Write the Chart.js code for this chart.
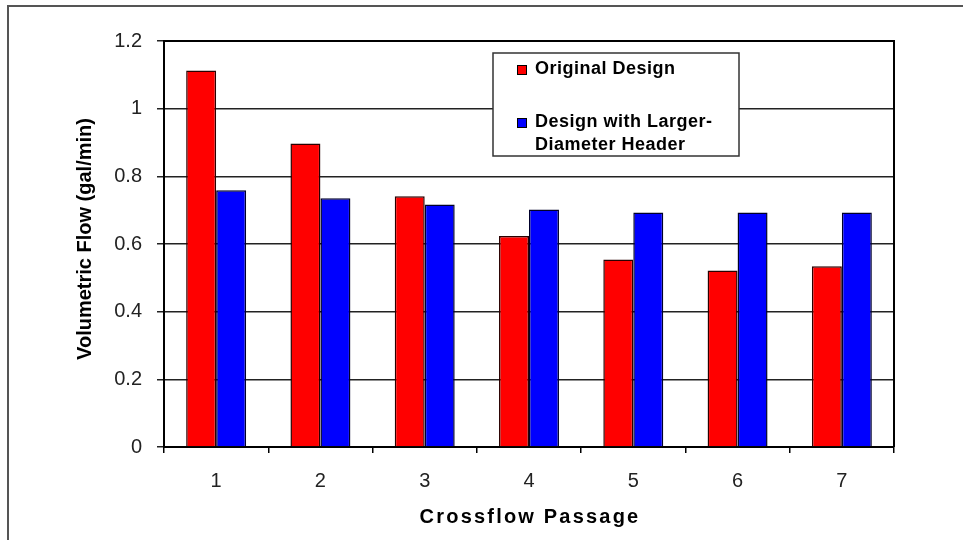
<!DOCTYPE html>
<html>
<head>
<meta charset="utf-8">
<script src="https://cdn.jsdelivr.net/npm/chart.js@4.4.1/dist/chart.umd.min.js"></script>
<style>
  html, body { margin: 0; padding: 0; background: #fff; }
  #wrap { width: 963px; height: 540px; }
</style>
</head>
<body>
<div id="wrap"><canvas id="flowChart" width="963" height="540"></canvas></div>
<script>
// crossflow passages and measured flow per passage (gal/min)
var passages = ['1', '2', '3', '4', '5', '6', '7'];
var originalFlow = [1.113, 0.897, 0.741, 0.624, 0.554, 0.522, 0.534];
var largerHeaderFlow = [0.759, 0.735, 0.717, 0.702, 0.693, 0.693, 0.693];
var seriesNames = [['Original Design'], ['Design with Larger-', 'Diameter Header']];
var yTicks = [0, 0.2, 0.4, 0.6, 0.8, 1, 1.2];
var xTitle = 'Crossflow Passage';
var yTitle = 'Volumetric Flow (gal/min)';

var FONT = '"Liberation Sans", Arial, sans-serif';

// white page with the outer frame
var framePlugin = {
  id: 'frame',
  beforeDraw: function(chart) {
    var ctx = chart.ctx;
    ctx.save();
    ctx.fillStyle = '#fff';
    ctx.fillRect(0, 0, chart.width, chart.height);
    ctx.strokeStyle = '#555';
    ctx.lineWidth = 2;
    ctx.beginPath();
    ctx.moveTo(963, 6);
    ctx.lineTo(8, 6);
    ctx.lineTo(8, 540);
    ctx.stroke();
    ctx.restore();
  },
  // closing lines on the top and right of the plot area
  afterDatasetsDraw: function(chart) {
    var ctx = chart.ctx, a = chart.chartArea;
    ctx.save();
    ctx.strokeStyle = '#000';
    ctx.lineWidth = 2;
    ctx.beginPath();
    ctx.moveTo(a.left - 1, a.top);
    ctx.lineTo(a.right, a.top);
    ctx.lineTo(a.right, a.bottom);
    ctx.stroke();
    ctx.restore();
  }
};

// axis titles, spaced out like the old spreadsheet fonts
var axisTitles = {
  id: 'axisTitles',
  afterDraw: function(chart) {
    var ctx = chart.ctx, a = chart.chartArea;
    ctx.save();
    ctx.fillStyle = '#000';
    ctx.textAlign = 'center';
    ctx.textBaseline = 'middle';
    ctx.font = 'bold 20px ' + FONT;
    ctx.letterSpacing = '2.2px';
    ctx.fillText(xTitle, (a.left + a.right) / 2 + 1, 517);
    ctx.letterSpacing = '0px';
    ctx.translate(85, (a.top + a.bottom) / 2 - 5);
    ctx.rotate(-Math.PI / 2);
    ctx.fillText(yTitle, 0, 0);
    ctx.restore();
  }
};

// boxed legend inside the plot
var boxLegend = {
  id: 'boxLegend',
  afterDraw: function(chart) {
    var ctx = chart.ctx;
    var box = { x: 493, y: 53, w: 246, h: 103 };
    ctx.save();
    ctx.fillStyle = '#fff';
    ctx.fillRect(box.x, box.y, box.w, box.h);
    ctx.strokeStyle = '#333';
    ctx.lineWidth = 1.5;
    ctx.strokeRect(box.x, box.y, box.w, box.h);
    ctx.font = 'bold 18px ' + FONT;
    ctx.letterSpacing = '0.5px';
    ctx.textBaseline = 'middle';
    var rows = [69, 122];
    chart.data.datasets.forEach(function(ds, i) {
      var y = rows[i];
      ctx.fillStyle = ds.backgroundColor;
      ctx.fillRect(517, y - 4, 9, 9);
      ctx.strokeStyle = '#000';
      ctx.lineWidth = 1;
      ctx.strokeRect(517.5, y - 3.5, 9, 9);
      ctx.fillStyle = '#000';
      seriesNames[i].forEach(function(line, j) {
        ctx.fillText(line, 535, y + j * 23);
      });
    });
    ctx.restore();
  }
};

var chart = new Chart(document.getElementById('flowChart'), {
  type: 'bar',
  data: {
    labels: passages,
    datasets: [{
      label: seriesNames[0].join(' '),
      data: originalFlow,
      backgroundColor: '#ff0000',
      borderColor: '#2a0000',
      borderWidth: 1.5
    }, {
      label: seriesNames[1].join(' '),
      data: largerHeaderFlow,
      backgroundColor: '#0000ff',
      borderColor: '#00002a',
      borderWidth: 1.5
    }]
  },
  options: {
    responsive: false,
    animation: false,
    layout: { padding: { top: 41, right: 69, left: 0, bottom: 0 } },
    plugins: {
      legend: { display: false },
      tooltip: { enabled: false }
    },
    datasets: { bar: { categoryPercentage: 0.575, barPercentage: 1 } },
    scales: {
      x: {
        afterFit: function(scale) { scale.height = 93; },
        grid: { drawOnChartArea: false, drawTicks: true, tickLength: 6, color: '#000', lineWidth: 1.5 },
        border: { display: true, color: '#000', width: 2 },
        ticks: { color: '#222', padding: 16, font: { family: FONT, size: 20 } }
      },
      y: {
        min: 0,
        max: 1.2,
        afterFit: function(scale) { scale.width = 164; },
        afterBuildTicks: function(scale) {
          scale.ticks = yTicks.map(function(v) { return { value: v }; });
        },
        grid: { color: '#222', lineWidth: 1.5, drawTicks: true, tickLength: 7 },
        border: { display: true, color: '#000', width: 2 },
        ticks: {
          color: '#222',
          padding: 15,
          font: { family: FONT, size: 20 },
          callback: function(v) { return String(Math.round(v * 10) / 10); }
        }
      }
    }
  },
  plugins: [framePlugin, axisTitles, boxLegend]
});
</script>
</body>
</html>
